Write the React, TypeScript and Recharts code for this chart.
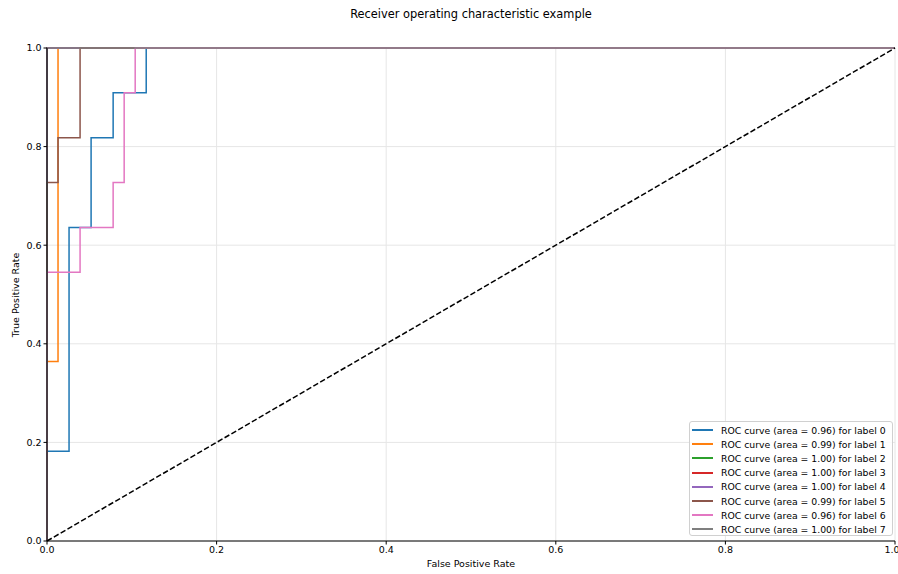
import { LineChart, Line, XAxis, YAxis, CartesianGrid } from "recharts"

const ticks = [0, 0.2, 0.4, 0.6, 0.8, 1.0]

const labels = ["0", "1", "2", "3", "4", "5", "6", "7"]
const areas = [0.96, 0.99, 1.0, 1.0, 1.0, 0.99, 0.96, 1.0]
const colors = ["#1f77b4", "#ff7f0e", "#2ca02c", "#d62728", "#9467bd", "#8c564b", "#e377c2", "#7f7f7f"]

// false / true positive rates per label
const fpr0 = [0, 0, 0.026, 0.026, 0.052, 0.052, 0.078, 0.078, 0.117, 0.117, 1]
const tpr0 = [0, 0.182, 0.182, 0.636, 0.636, 0.818, 0.818, 0.909, 0.909, 1, 1]
const fpr1 = [0, 0, 0.013, 0.013, 1]
const tpr1 = [0, 0.364, 0.364, 1, 1]
const fprPerfect = [0, 0, 1]
const tprPerfect = [0, 1, 1]
const fpr5 = [0, 0, 0.013, 0.013, 0.039, 0.039, 1]
const tpr5 = [0, 0.727, 0.727, 0.818, 0.818, 1, 1]
const fpr6 = [0, 0, 0.039, 0.039, 0.078, 0.078, 0.091, 0.091, 0.104, 0.104, 1]
const tpr6 = [0, 0.545, 0.545, 0.636, 0.636, 0.727, 0.727, 0.909, 0.909, 1, 1]

const chance = [0, 1]

const zip = (xs: number[], ys: number[]) => xs.map((x, i) => ({ x, y: ys[i] }))

const curves = [
    zip(fpr0, tpr0),
    zip(fpr1, tpr1),
    zip(fprPerfect, tprPerfect),
    zip(fprPerfect, tprPerfect),
    zip(fprPerfect, tprPerfect),
    zip(fpr5, tpr5),
    zip(fpr6, tpr6),
    zip(fprPerfect, tprPerfect),
]

const names = labels.map((l, i) => `ROC curve (area = ${areas[i].toFixed(2)}) for label ${l}`)

const font = "'DejaVu Sans', sans-serif"

export default function App() {
    return (
        <div style={{ position: "relative", width: 898, height: 574, background: "#fff", fontFamily: font, color: "#000" }}>
            <style>{`body{margin:0}`}</style>
            <LineChart width={898} height={574} margin={{ top: 48, right: 3, bottom: 0, left: 10 }}>
                <CartesianGrid stroke="#e6e6e6" horizontalValues={ticks} verticalValues={ticks} />
                <XAxis
                    type="number"
                    dataKey="x"
                    domain={[0, 1]}
                    ticks={ticks}
                    tickFormatter={(v: number) => v.toFixed(1)}
                    height={33}
                    tickSize={3.5}
                    stroke="#000"
                    tick={{ fill: "#000", fontSize: 9.5, fontFamily: font }}
                    allowDuplicatedCategory={false}
                />
                <YAxis
                    type="number"
                    dataKey="y"
                    domain={[0, 1]}
                    ticks={ticks}
                    tickFormatter={(v: number) => v.toFixed(1)}
                    width={37}
                    tickSize={3.5}
                    stroke="#000"
                    tick={{ fill: "#000", fontSize: 9.5, fontFamily: font }}
                />
                {curves.map((pts, i) => (
                    <Line
                        key={labels[i]}
                        data={pts}
                        dataKey="y"
                        type="linear"
                        stroke={colors[i]}
                        strokeWidth={1.5}
                        dot={false}
                        activeDot={false}
                        isAnimationActive={false}
                        name={names[i]}
                    />
                ))}
                <Line
                    data={zip(chance, chance)}
                    dataKey="y"
                    type="linear"
                    stroke="#000"
                    strokeWidth={1.5}
                    strokeDasharray="5.5 2.4"
                    dot={false}
                    activeDot={false}
                    legendType="none"
                    isAnimationActive={false}
                />
            </LineChart>
            <div style={{ position: "absolute", top: 7, left: 47, width: 848, textAlign: "center", fontSize: 11.4 }}>
                Receiver operating characteristic example
            </div>
            <div style={{ position: "absolute", top: 558, left: 47, width: 848, textAlign: "center", fontSize: 9.5 }}>
                False Positive Rate
            </div>
            <div
                style={{
                    position: "absolute",
                    left: 15,
                    top: 295,
                    transform: "translate(-50%, -50%) rotate(-90deg)",
                    whiteSpace: "nowrap",
                    fontSize: 9.5,
                }}
            >
                True Positive Rate
            </div>
            <div
                style={{
                    position: "absolute",
                    left: 689,
                    top: 421,
                    width: 204,
                    height: 115,
                    boxSizing: "border-box",
                    border: "1px solid #d0d0d0",
                    borderRadius: 3,
                    background: "rgba(255,255,255,0.85)",
                    padding: "1px 0 0 2px",
                    fontSize: 9.3,
                    whiteSpace: "nowrap",
                }}
            >
                {names.map((n, i) => (
                    <div key={n} style={{ display: "flex", alignItems: "center", height: 14.2 }}>
                        <span style={{ display: "inline-block", width: 21, height: 0, borderTop: `2px solid ${colors[i]}`, marginRight: 8 }} />
                        <span>{n}</span>
                    </div>
                ))}
            </div>
        </div>
    )
}
